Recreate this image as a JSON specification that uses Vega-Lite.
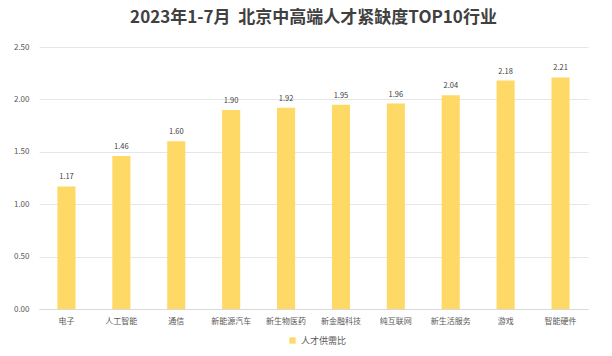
{
  "$schema": "https://vega.github.io/schema/vega-lite/v6.json",
  "width": 549,
  "height": 262,
  "autosize": {"type": "none"},
  "padding": {"left": 39, "top": 47, "right": 24, "bottom": 47},
  "background": "white",
  "config": {
    "font": "Noto Sans CJK SC",
    "view": {"stroke": null}
  },
  "title": {
    "text": "2023年1-7月\u00a0\u00a0北京中高端人才紧缺度TOP10行业",
    "fontSize": 17,
    "fontWeight": "bold",
    "color": "#404040",
    "anchor": "middle",
    "offset": 16
  },
  "data": {
    "values": [
      {"industry": "电子", "value": 1.17, "series": "人才供需比"},
      {"industry": "人工智能", "value": 1.46, "series": "人才供需比"},
      {"industry": "通信", "value": 1.60, "series": "人才供需比"},
      {"industry": "新能源汽车", "value": 1.90, "series": "人才供需比"},
      {"industry": "新生物医药", "value": 1.92, "series": "人才供需比"},
      {"industry": "新金融科技", "value": 1.95, "series": "人才供需比"},
      {"industry": "纯互联网", "value": 1.96, "series": "人才供需比"},
      {"industry": "新生活服务", "value": 2.04, "series": "人才供需比"},
      {"industry": "游戏", "value": 2.18, "series": "人才供需比"},
      {"industry": "智能硬件", "value": 2.21, "series": "人才供需比"}
    ]
  },
  "encoding": {
    "x": {
      "field": "industry",
      "type": "nominal",
      "sort": null,
      "title": null,
      "scale": {"paddingInner": 0.67, "paddingOuter": 0.335},
      "axis": {
        "labelAngle": 0,
        "labelFontSize": 8,
        "labelColor": "#595959",
        "labelPadding": 8,
        "ticks": false,
        "domainColor": "#D9D9D9",
        "grid": false
      }
    },
    "y": {
      "field": "value",
      "type": "quantitative",
      "title": null,
      "scale": {"domain": [0, 2.5]},
      "axis": {
        "values": [0, 0.5, 1, 1.5, 2, 2.5],
        "format": ".2f",
        "labelFontSize": 8,
        "labelColor": "#595959",
        "labelPadding": 10,
        "ticks": false,
        "domain": false,
        "gridColor": "#E6E6E6"
      }
    }
  },
  "layer": [
    {
      "mark": {"type": "bar", "color": "#FFD966"},
      "encoding": {
        "color": {
          "field": "series",
          "type": "nominal",
          "scale": {"range": ["#FFD966"]},
          "legend": {
            "title": null,
            "orient": "none",
            "legendX": 249,
            "legendY": 289,
            "direction": "horizontal",
            "symbolType": "square",
            "symbolSize": 40,
            "labelFontSize": 9,
            "labelColor": "#595959"
          }
        }
      }
    },
    {
      "mark": {"type": "text", "dy": -9, "fontSize": 7.5, "color": "#404040"},
      "encoding": {
        "text": {"field": "value", "type": "quantitative", "format": ".2f"}
      }
    }
  ]
}
